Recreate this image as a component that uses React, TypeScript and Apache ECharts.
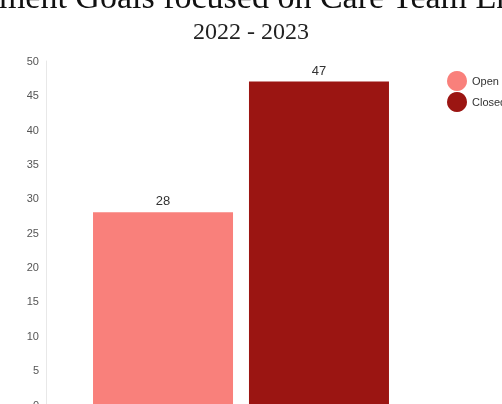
import React, { useEffect, useRef } from "react";
import * as echarts from "echarts";

const titleText = "Patient Engagement Goals focused on Care Team Engagement";
const subtitleText = "2022 - 2023";
const categories = ["2022 - 2023"];
const seriesNames = ["Open", "Closed"];
const openValues = [28];
const closedValues = [47];
const seriesColors = ["#F9807B", "#9B1512"];

export default function App() {
  const ref = useRef<HTMLDivElement>(null);
  useEffect(() => {
    document.body.style.margin = "0";
    document.body.style.overflow = "hidden";
    const chart = echarts.init(ref.current!, undefined, { renderer: "svg" });
    chart.setOption({
      animation: false,
      title: [
        {
          text: titleText,
          left: -211,
          top: -26,
          textStyle: { fontFamily: "Liberation Serif", fontSize: 34, fontWeight: "normal", color: "#111" },
        },
        {
          text: subtitleText,
          left: "center",
          top: 14,
          textStyle: { fontFamily: "Liberation Serif", fontSize: 24, fontWeight: "normal", color: "#222" },
        },
      ],
      legend: {
        orient: "vertical",
        left: 442,
        top: 66,
        icon: "circle",
        itemWidth: 20,
        itemHeight: 20,
        itemGap: 1,
        textStyle: { fontFamily: "Liberation Sans", fontSize: 11, color: "#333" },
        data: seriesNames,
      },
      grid: { left: 46, right: 66, top: 61, bottom: 35.5, containLabel: false },
      xAxis: {
        type: "category",
        data: categories,
        axisLabel: { show: false },
        axisTick: { show: false },
        axisLine: { show: false },
      },
      yAxis: {
        type: "value",
        min: 0,
        max: 50,
        interval: 5,
        axisLine: { show: true, lineStyle: { color: "#e8e8e8", width: 1 } },
        axisTick: { show: false },
        splitLine: { show: false },
        axisLabel: { fontFamily: "Liberation Sans", fontSize: 11, color: "#555", margin: 7 },
      },
      series: [
        {
          name: seriesNames[0],
          type: "bar",
          data: openValues,
          barWidth: 140,
          barGap: "11.4%",
          itemStyle: { color: seriesColors[0] },
          label: { show: true, position: "top", fontFamily: "Liberation Sans", fontSize: 13, color: "#333" },
        },
        {
          name: seriesNames[1],
          type: "bar",
          data: closedValues,
          barWidth: 140,
          barGap: "11.4%",
          itemStyle: { color: seriesColors[1] },
          label: { show: true, position: "top", fontFamily: "Liberation Sans", fontSize: 13, color: "#333" },
        },
      ],
    });
    return () => chart.dispose();
  }, []);
  return <div ref={ref} style={{ position: "fixed", left: 0, top: 0, width: 502, height: 440 }} />;
}
